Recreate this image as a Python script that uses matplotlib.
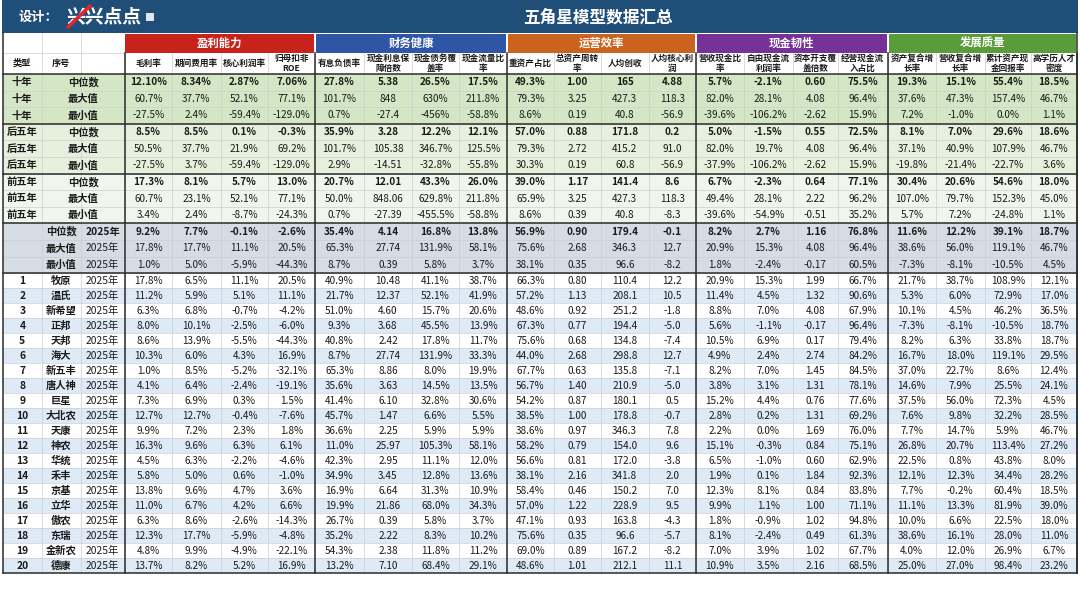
import matplotlib
matplotlib.use('Agg')
import matplotlib.pyplot as plt
from matplotlib.patches import Rectangle

plt.rcParams['font.family'] = ['Noto Sans CJK SC', 'DejaVu Sans']

# ---------------- data ----------------
title = '五角星模型数据汇总'
designer = '设计：'
logo_text = '兴兴点点'
groups = ['盈利能力', '财务健康', '运营效率', '现金韧性', '发展质量']
left_headers = ['类型', '序号', '']
metrics = ['毛利率', '期间费用率', '核心利润率', '归母扣非\nROE',
           '有息负债率', '现金利息保\n障倍数', '现金债务覆\n盖率', '现金流量比\n率',
           '重资产占比', '总资产周转\n率', '人均创收', '人均核心利\n润',
           '营收现金比\n率', '自由现金流\n利润率', '资本开支覆\n盖倍数', '经营现金流\n入占比',
           '资产复合增\n长率', '营收复合增\n长率', '累计资产现\n金回报率', '高学历人才\n密度']

period_labels = ['十年', '十年', '十年', '后五年', '后五年', '后五年', '前五年', '前五年', '前五年']
stat_labels = ['中位数', '最大值', '最小值']
period_values = [
    ['12.10%', '8.34%', '2.87%', '7.06%', '27.8%', '5.38', '26.5%', '17.5%', '49.3%', '1.00', '165', '4.88',
     '5.7%', '-2.1%', '0.60', '75.5%', '19.3%', '15.1%', '55.4%', '18.5%'],
    ['60.7%', '37.7%', '52.1%', '77.1%', '101.7%', '848', '630%', '211.8%', '79.3%', '3.25', '427.3', '118.3',
     '82.0%', '28.1%', '4.08', '96.4%', '37.6%', '47.3%', '157.4%', '46.7%'],
    ['-27.5%', '2.4%', '-59.4%', '-129.0%', '0.7%', '-27.4', '-456%', '-58.8%', '8.6%', '0.19', '40.8', '-56.9',
     '-39.6%', '-106.2%', '-2.62', '15.9%', '7.2%', '-1.0%', '0.0%', '1.1%'],
    ['8.5%', '8.5%', '0.1%', '-0.3%', '35.9%', '3.28', '12.2%', '12.1%', '57.0%', '0.88', '171.8', '0.2',
     '5.0%', '-1.5%', '0.55', '72.5%', '8.1%', '7.0%', '29.6%', '18.6%'],
    ['50.5%', '37.7%', '21.9%', '69.2%', '101.7%', '105.38', '346.7%', '125.5%', '79.3%', '2.72', '415.2', '91.0',
     '82.0%', '19.7%', '4.08', '96.4%', '37.1%', '40.9%', '107.9%', '46.7%'],
    ['-27.5%', '3.7%', '-59.4%', '-129.0%', '2.9%', '-14.51', '-32.8%', '-55.8%', '30.3%', '0.19', '60.8', '-56.9',
     '-37.9%', '-106.2%', '-2.62', '15.9%', '-19.8%', '-21.4%', '-22.7%', '3.6%'],
    ['17.3%', '8.1%', '5.7%', '13.0%', '20.7%', '12.01', '43.3%', '26.0%', '39.0%', '1.17', '141.4', '8.6',
     '6.7%', '-2.3%', '0.64', '77.1%', '30.4%', '20.6%', '54.6%', '18.0%'],
    ['60.7%', '23.1%', '52.1%', '77.1%', '50.0%', '848.06', '629.8%', '211.8%', '65.9%', '3.25', '427.3', '118.3',
     '49.4%', '28.1%', '2.22', '96.2%', '107.0%', '79.7%', '152.3%', '45.0%'],
    ['3.4%', '2.4%', '-8.7%', '-24.3%', '0.7%', '-27.39', '-455.5%', '-58.8%', '8.6%', '0.39', '40.8', '-8.3',
     '-39.6%', '-54.9%', '-0.51', '35.2%', '5.7%', '7.2%', '-24.8%', '1.1%'],
]

year_label = '2025年'
year_values = [
    ['9.2%', '7.7%', '-0.1%', '-2.6%', '35.4%', '4.14', '16.8%', '13.8%', '56.9%', '0.90', '179.4', '-0.1',
     '8.2%', '2.7%', '1.16', '76.8%', '11.6%', '12.2%', '39.1%', '18.7%'],
    ['17.8%', '17.7%', '11.1%', '20.5%', '65.3%', '27.74', '131.9%', '58.1%', '75.6%', '2.68', '346.3', '12.7',
     '20.9%', '15.3%', '4.08', '96.4%', '38.6%', '56.0%', '119.1%', '46.7%'],
    ['1.0%', '5.0%', '-5.9%', '-44.3%', '8.7%', '0.39', '5.8%', '3.7%', '38.1%', '0.35', '96.6', '-8.2',
     '1.8%', '-2.4%', '-0.17', '60.5%', '-7.3%', '-8.1%', '-10.5%', '4.5%'],
]

companies = ['牧原', '温氏', '新希望', '正邦', '天邦', '海大', '新五丰', '唐人神', '巨星', '大北农',
             '天康', '神农', '华统', '禾丰', '京基', '立华', '傲农', '东瑞', '金新农', '德康']
company_values = [
    ['17.8%', '6.5%', '11.1%', '20.5%', '40.9%', '10.48', '41.1%', '38.7%', '66.3%', '0.80', '110.4', '12.2', '20.9%', '15.3%', '1.99', '66.7%', '21.7%', '38.7%', '108.9%', '12.1%'],
    ['11.2%', '5.9%', '5.1%', '11.1%', '21.7%', '12.37', '52.1%', '41.9%', '57.2%', '1.13', '208.1', '10.5', '11.4%', '4.5%', '1.32', '90.6%', '5.3%', '6.0%', '72.9%', '17.0%'],
    ['6.3%', '6.8%', '-0.7%', '-4.2%', '51.0%', '4.60', '15.7%', '20.6%', '48.6%', '0.92', '251.2', '-1.8', '8.8%', '7.0%', '4.08', '67.9%', '10.1%', '4.5%', '46.2%', '36.5%'],
    ['8.0%', '10.1%', '-2.5%', '-6.0%', '9.3%', '3.68', '45.5%', '13.9%', '67.3%', '0.77', '194.4', '-5.0', '5.6%', '-1.1%', '-0.17', '96.4%', '-7.3%', '-8.1%', '-10.5%', '18.7%'],
    ['8.6%', '13.9%', '-5.5%', '-44.3%', '40.8%', '2.42', '17.8%', '11.7%', '75.6%', '0.68', '134.8', '-7.4', '10.5%', '6.9%', '0.17', '79.4%', '8.2%', '6.3%', '33.8%', '18.7%'],
    ['10.3%', '6.0%', '4.3%', '16.9%', '8.7%', '27.74', '131.9%', '33.3%', '44.0%', '2.68', '298.8', '12.7', '4.9%', '2.4%', '2.74', '84.2%', '16.7%', '18.0%', '119.1%', '29.5%'],
    ['1.0%', '8.5%', '-5.2%', '-32.1%', '65.3%', '8.86', '8.0%', '19.9%', '67.7%', '0.63', '135.8', '-7.1', '8.2%', '7.0%', '1.45', '84.5%', '37.0%', '22.7%', '8.6%', '12.4%'],
    ['4.1%', '6.4%', '-2.4%', '-19.1%', '35.6%', '3.63', '14.5%', '13.5%', '56.7%', '1.40', '210.9', '-5.0', '3.8%', '3.1%', '1.31', '78.1%', '14.6%', '7.9%', '25.5%', '24.1%'],
    ['7.3%', '6.9%', '0.3%', '1.5%', '41.4%', '6.10', '32.8%', '30.6%', '54.2%', '0.87', '180.1', '0.5', '15.2%', '4.4%', '0.76', '77.6%', '37.5%', '56.0%', '72.3%', '4.5%'],
    ['12.7%', '12.7%', '-0.4%', '-7.6%', '45.7%', '1.47', '6.6%', '5.5%', '38.5%', '1.00', '178.8', '-0.7', '2.8%', '0.2%', '1.31', '69.2%', '7.6%', '9.8%', '32.2%', '28.5%'],
    ['9.9%', '7.2%', '2.3%', '1.8%', '36.6%', '2.25', '5.9%', '5.9%', '38.6%', '0.97', '346.3', '7.8', '2.2%', '0.0%', '1.69', '76.0%', '7.7%', '14.7%', '5.9%', '46.7%'],
    ['16.3%', '9.6%', '6.3%', '6.1%', '11.0%', '25.97', '105.3%', '58.1%', '58.2%', '0.79', '154.0', '9.6', '15.1%', '-0.3%', '0.84', '75.1%', '26.8%', '20.7%', '113.4%', '27.2%'],
    ['4.5%', '6.3%', '-2.2%', '-4.6%', '42.3%', '2.95', '11.1%', '12.0%', '56.6%', '0.81', '172.0', '-3.8', '6.5%', '-1.0%', '0.60', '62.9%', '22.5%', '0.8%', '43.8%', '8.0%'],
    ['5.8%', '5.0%', '0.6%', '-1.0%', '34.9%', '3.45', '12.8%', '13.6%', '38.1%', '2.16', '341.8', '2.0', '1.9%', '0.1%', '1.84', '92.3%', '12.1%', '12.3%', '34.4%', '28.2%'],
    ['13.8%', '9.6%', '4.7%', '3.6%', '16.9%', '6.64', '31.3%', '10.9%', '58.4%', '0.46', '150.2', '7.0', '12.3%', '8.1%', '0.84', '83.8%', '7.7%', '-0.2%', '60.4%', '18.5%'],
    ['11.0%', '6.7%', '4.2%', '6.6%', '19.9%', '21.86', '68.0%', '34.3%', '57.0%', '1.22', '228.9', '9.5', '9.9%', '1.1%', '1.00', '71.1%', '11.1%', '13.3%', '81.9%', '39.0%'],
    ['6.3%', '8.6%', '-2.6%', '-14.3%', '26.7%', '0.39', '5.8%', '3.7%', '47.1%', '0.93', '163.8', '-4.3', '1.8%', '-0.9%', '1.02', '94.8%', '10.0%', '6.6%', '22.5%', '18.0%'],
    ['12.3%', '17.7%', '-5.9%', '-4.8%', '35.2%', '2.22', '8.3%', '10.2%', '75.6%', '0.35', '96.6', '-5.7', '8.1%', '-2.4%', '0.49', '61.3%', '38.6%', '16.1%', '28.0%', '11.0%'],
    ['4.8%', '9.9%', '-4.9%', '-22.1%', '54.3%', '2.38', '11.8%', '11.2%', '69.0%', '0.89', '167.2', '-8.2', '7.0%', '3.9%', '1.02', '67.7%', '4.0%', '12.0%', '26.9%', '6.7%'],
    ['13.7%', '8.2%', '5.2%', '16.9%', '13.2%', '7.10', '68.4%', '29.1%', '48.6%', '1.01', '212.1', '11.1', '10.9%', '3.5%', '2.16', '68.5%', '25.0%', '27.0%', '98.4%', '23.2%'],
]

# ---------------- styles / layout ----------------
W, H = 1080, 608
group_colors = ['#c9221b', '#2f56a6', '#c9631d', '#763297', '#5b9c3a']
title_bg = '#1f4e79'
period_bg = ['#d3e7c4', '#e6f0dd', '#f1f6ec']
year_bg = '#d6dce4'
stripe_bg = ['#ffffff', '#deebf7']
text_col = '#1a1a1a'

col_edges = [3, 41.5, 80.6, 124.6, 172, 220.8, 268, 315, 364, 412, 459, 507, 554, 600.5,
             649, 695.7, 744, 792.6, 838, 887.7, 936, 984.6, 1031, 1077]
title_h = 33
h1_top, h1_bot = 33, 53
h2_bot = 74
sum_h = 16.6
comp_h = 15.0

FS = 7.2

fig = plt.figure(figsize=(W / 100, H / 100), dpi=100)
ax = fig.add_axes([0, 0, 1, 1])
ax.set_xlim(0, W)
ax.set_ylim(H, 0)
ax.axis('off')


def rect(x0, y0, x1, y1, color, z=1):
    ax.add_patch(Rectangle((x0, y0), x1 - x0, y1 - y0, facecolor=color, edgecolor='none', zorder=z))


def txt(x, y, s, bold=False, color=text_col, size=FS, ha='center', ls=1.35):
    ax.text(x, y, s, ha=ha, va='center', fontsize=size, color=color,
            fontweight='bold' if bold else 'normal', zorder=5, linespacing=ls)


def cc(i):
    return (col_edges[i] + col_edges[i + 1]) / 2


L, R = col_edges[0], col_edges[-1]

# title bar
rect(L - 1, 0, R + 1, title_h, title_bg)
txt(38, 17, designer, bold=True, color='white', size=9.5)
txt(66, 16.5, logo_text, bold=True, color='white', size=13.5, ha='left')
ax.plot([68, 90], [27, 6], color='#e0262b', lw=2.6, zorder=6, solid_capstyle='round')
rect(146, 13, 154, 21, '#dfe6ee', z=6)
txt(598, 17, title, bold=True, color='white', size=12)

# header row 1
rect(L, h1_top, R, h2_bot, 'white')
for g in range(5):
    x0 = col_edges[3 + 4 * g]
    x1 = col_edges[7 + 4 * g]
    rect(x0 + 0.8, h1_top + 0.6, x1 - 0.8, h1_bot, group_colors[g], z=2)
    txt((x0 + x1) / 2, (h1_top + h1_bot) / 2, groups[g], bold=True, color='white', size=8.2)

# header row 2
for i, s in enumerate(left_headers):
    txt(cc(i), (h1_bot + h2_bot) / 2, s, bold=True, size=6.6)
for j, s in enumerate(metrics):
    txt(cc(3 + j), (h1_bot + h2_bot) / 2, s, bold=True, size=6.2, ls=1.15)

# summary rows
row_tops = []
y = h2_bot
for r in range(9):
    rect(L, y, R, y + sum_h, period_bg[r // 3])
    yc = y + sum_h / 2
    bold = (r % 3 == 0)
    txt(cc(0), yc, period_labels[r], bold=True, size=7.4)
    txt((col_edges[1] + col_edges[3]) / 2, yc, stat_labels[r % 3], bold=True, size=7.4)
    for j, v in enumerate(period_values[r]):
        txt(cc(3 + j), yc, v, bold=bold)
    row_tops.append(y)
    y += sum_h
for r in range(3):
    rect(L, y, R, y + sum_h, year_bg)
    yc = y + sum_h / 2
    bold = (r == 0)
    txt(cc(1), yc, stat_labels[r], bold=True, size=7.4)
    txt(cc(2), yc, year_label, bold=bold, size=7.4)
    for j, v in enumerate(year_values[r]):
        txt(cc(3 + j), yc, v, bold=bold)
    row_tops.append(y)
    y += sum_h
sum_bottom = y
for r, name in enumerate(companies):
    rect(L, y, R, y + comp_h, stripe_bg[r % 2])
    yc = y + comp_h / 2
    txt(cc(0), yc, str(r + 1), bold=True, size=7.4)
    txt(cc(1), yc, name, bold=True, size=7.4)
    txt(cc(2), yc, year_label, size=7.4)
    for j, v in enumerate(company_values[r]):
        txt(cc(3 + j), yc, v)
    row_tops.append(y)
    y += comp_h
bottom = y

# thin grid
thin = dict(color='#c9ced4', lw=0.5, zorder=3)
for yt in row_tops[1:]:
    ax.plot([L, R], [yt, yt], **thin)
ax.plot([L, col_edges[3]], [h1_bot, h1_bot], **thin)
for k, xe in enumerate(col_edges[1:-1]):
    ax.plot([xe, xe], [h1_bot if k >= 2 else h1_top, bottom], **thin)

# thick lines
thick = dict(color='#2b2b2b', lw=1.1, zorder=4)
for yt in [h2_bot, row_tops[3], row_tops[6], row_tops[9], sum_bottom, bottom]:
    ax.plot([L, R], [yt, yt], **thick)
for g in range(6):
    xe = col_edges[3 + 4 * g]
    ax.plot([xe, xe], [h1_bot, bottom], **thick)
ax.plot([L, L], [h1_top, bottom], **thick)
ax.plot([R, R], [h1_top, bottom], **thick)

fig.savefig('out.png', dpi=100, facecolor='white')
